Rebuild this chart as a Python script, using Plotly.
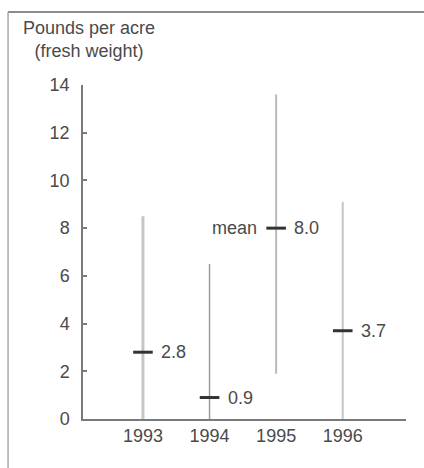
import plotly.graph_objects as go

# Yearly catch: range (low-high) and mean, pounds per acre (fresh weight)
years = [1993, 1994, 1995, 1996]
year_labels = ["1993", "1994", "1995", "1996"]
means = [2.8, 0.9, 8.0, 3.7]
lows = [0.0, 0.0, 1.9, 0.0]
highs = [8.5, 6.5, 13.6, 9.1]

y_ticks = [0, 2, 4, 6, 8, 10, 12, 14]

# stroke style of each range bar
bar_colors = ["#c6c6c6", "#9c9c9c", "#b9b9b9", "#c6c6c6"]
bar_widths = [3, 1.5, 2, 2]

FONT = "Liberation Sans, Arial, Helvetica, sans-serif"
TEXT = "#4a4a4a"
FS = 18

fig = go.Figure()

# vertical range bars
for yr, lo, hi, c, w in zip(years, lows, highs, bar_colors, bar_widths):
    fig.add_trace(go.Scatter(
        x=[yr, yr], y=[lo, hi], mode="lines",
        line=dict(color=c, width=w), hoverinfo="skip", showlegend=False,
    ))

# mean markers
fig.add_trace(go.Scatter(
    x=years, y=means, mode="markers",
    marker=dict(symbol="line-ew", size=14, line=dict(color="#333333", width=3)),
    showlegend=False,
))

annotations = []
for yr, m in zip(years, means):
    annotations.append(dict(
        x=yr, y=m, xref="x", yref="y", text=f"{m:.1f}", showarrow=False,
        xanchor="left", yanchor="middle", xshift=16,
        font=dict(family=FONT, size=FS, color=TEXT),
    ))
annotations.append(dict(
    x=years[2], y=means[2], xref="x", yref="y", text="mean", showarrow=False,
    xanchor="right", yanchor="middle", xshift=-17,
    font=dict(family=FONT, size=FS, color=TEXT),
))
annotations.append(dict(
    x=0.019, y=1.135, xref="paper", yref="paper",
    text="Pounds per acre<br>(fresh weight)", showarrow=False,
    xanchor="center", yanchor="middle", align="center",
    font=dict(family=FONT, size=FS, color=TEXT),
))

# partial frame: top and left edges
shapes = [
    dict(type="line", xref="paper", yref="paper", x0=-0.232, x1=1.06, y0=1.2186, y1=1.2186,
         line=dict(color="#8c8c8c", width=2)),
    dict(type="line", xref="paper", yref="paper", x0=-0.232, x1=-0.232, y0=1.2186, y1=-0.16,
         line=dict(color="#a8a8a8", width=1.5)),
]

fig.update_layout(
    width=424, height=468,
    margin=dict(l=83, r=18, t=85, b=49),
    paper_bgcolor="white", plot_bgcolor="white",
    font=dict(family=FONT, size=FS, color=TEXT),
    annotations=annotations, shapes=shapes,
    showlegend=False,
)
fig.update_xaxes(
    range=[1992.1, 1996.95], tickvals=years, ticktext=year_labels,
    showgrid=False, zeroline=False, showline=True, linecolor="#7a7a7a", linewidth=1.5,
    ticks="", tickfont=dict(family=FONT, size=FS, color=TEXT),
)
fig.update_yaxes(
    range=[0, 14], tickvals=y_ticks,
    showgrid=False, zeroline=False, showline=True, linecolor="#7a7a7a", linewidth=1.5,
    ticks="inside", ticklen=4, tickcolor="#7a7a7a", tickwidth=1.5,
    ticklabelstandoff=8,
    tickfont=dict(family=FONT, size=FS, color=TEXT),
)

fig.write_html("out.html")
